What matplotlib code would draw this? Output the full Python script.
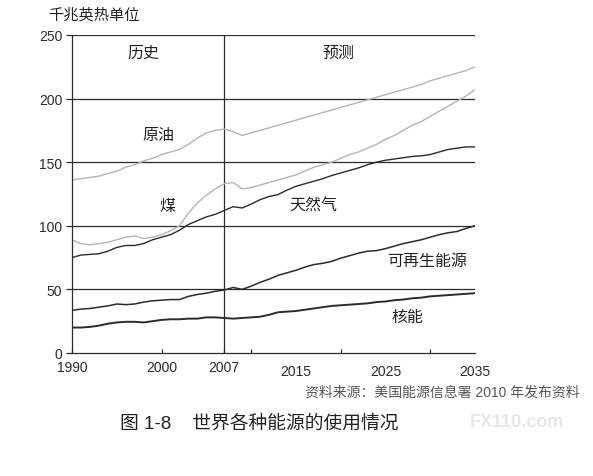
import matplotlib
matplotlib.use("Agg")
import matplotlib.pyplot as plt

plt.rcParams['font.family'] = ['Liberation Sans', 'Noto Sans CJK SC', 'DejaVu Sans']

years = list(range(1990, 2036))

oil = [136, 137, 138, 139, 141, 143, 146, 148, 151, 153,
       156, 158, 160, 164, 169, 173, 175, 176, 174, 171,
       173, 175, 177, 179, 181, 183, 185, 187, 189, 191,
       193, 195, 197, 199, 201, 203, 205, 207, 209, 211,
       214, 216, 218, 220, 222, 225]
coal = [89, 86, 85, 86, 87, 89, 91, 92, 90, 91,
        93, 96, 100, 110, 118, 124, 129, 133, 134, 129,
        130, 132, 134, 136, 138, 140, 143, 146, 148, 150,
        153, 156, 158, 161, 164, 168, 171, 175, 179, 182,
        186, 190, 194, 198, 202, 207]
gas = [75, 77, 77.5, 78, 80, 83, 84.5, 84.5, 86, 89,
       91, 93, 96.5, 101, 104, 107, 109, 112, 115, 114,
       117, 120.5, 123, 124.5, 128, 131, 133, 135, 137, 139.5,
       141.5, 143.5, 145.5, 148, 150, 151.5, 152.5, 153.5, 154.5, 155,
       156, 158, 160, 161, 162, 162]
renewables = [33.5, 34.5, 35, 36, 37, 38.5, 38, 38.5, 40, 41,
              41.5, 42, 42, 44.5, 46, 47, 48.5, 49.5, 51.5, 50,
              52.5, 55.5, 58, 61, 63, 65, 67.5, 69.5, 70.5, 72,
              74.5, 76.5, 78.5, 80, 80.5, 82, 84, 86, 87.5, 89,
              91, 93, 94.5, 95.5, 98, 100]
nuclear = [20, 20, 20.5, 21.5, 23, 24, 24.5, 24.5, 24, 25,
           26, 26.5, 26.5, 27, 27, 28, 28, 27.5, 27, 27.5,
           28, 28.5, 30, 32, 32.5, 33, 34, 35, 36, 37,
           37.5, 38, 38.5, 39, 40, 40.5, 41.5, 42, 43, 43.5,
           44.5, 45, 45.5, 46, 46.5, 47]

tick_years = [1990, 2000, 2007, 2010, 2020, 2030]
tick_text = ['1990', '2000', '2007', '', '', '']
extra_label_years = [2015, 2025, 2035]

# label text and where it sits (year, value)
labels = [('历史', 1998, 236.5), ('预测', 2019.7, 236.5),
          ('原油', 1999.7, 171.5), ('煤', 2000.6, 116),
          ('天然气', 2017, 116), ('可再生能源', 2029.7, 72.5),
          ('核能', 2027.5, 28.5)]

fig = plt.figure(figsize=(5.93, 4.77), dpi=100)
ax = fig.add_axes([0.1214, 0.2579, 0.6796, 0.6667])

dark = '#2b2b2b'
light = '#b4b4b4'

ax.plot(years, oil, color=light, lw=1.0)
ax.plot(years, coal, color=light, lw=1.0)
ax.plot(years, gas, color=dark, lw=1.0)
ax.plot(years, renewables, color=dark, lw=1.1)
ax.plot(years, nuclear, color=dark, lw=1.4)

for v in [50, 100, 150, 200, 250]:
    ax.axhline(v, color=dark, lw=0.9, zorder=0)
ax.axvline(2007, color=dark, lw=0.9, zorder=0)

ax.set_xlim(1990, 2035)
ax.set_ylim(0, 250)
ax.set_yticks([0, 50, 100, 150, 200, 250])
ax.set_xticks(tick_years)
ax.set_xticklabels(tick_text)
ax.set_xticks(extra_label_years, minor=True)
ax.set_xticklabels([str(y) for y in extra_label_years], minor=True)
ax.tick_params(axis='x', which='major', direction='in', length=3, width=0.9,
               pad=5, labelsize=10, colors=dark)
ax.tick_params(axis='x', which='minor', length=0, pad=8, labelsize=10,
               colors=dark)
ax.tick_params(axis='y', direction='out', length=4, width=0.9, pad=3,
               labelsize=10, colors=dark)

for s in ['top', 'right']:
    ax.spines[s].set_visible(False)
for s in ['left', 'bottom']:
    ax.spines[s].set_color(dark)
    ax.spines[s].set_linewidth(0.9)

for txt, x, y in labels:
    ax.text(x, y, txt, ha='center', va='center', fontsize=11.5, color='#222222')

fig.text(48 / 593, 1 - 15 / 477, '千兆英热单位', ha='left', va='center',
         fontsize=11, color='#222222')
fig.text(580 / 593, 1 - 393 / 477, '资料来源：美国能源信息署 2010 年发布资料',
         ha='right', va='center', fontsize=10, color='#555555')
fig.text(120 / 593, 1 - 424 / 477, '图 1-8    世界各种能源的使用情况',
         ha='left', va='center', fontsize=13.5, color='#222222')
fig.text(470 / 593, 1 - 423 / 477, 'FX110.com', ha='left', va='center',
         fontsize=13, color='#e6e6e6', fontweight='bold')

fig.savefig('out.png', dpi=100, facecolor='white')
